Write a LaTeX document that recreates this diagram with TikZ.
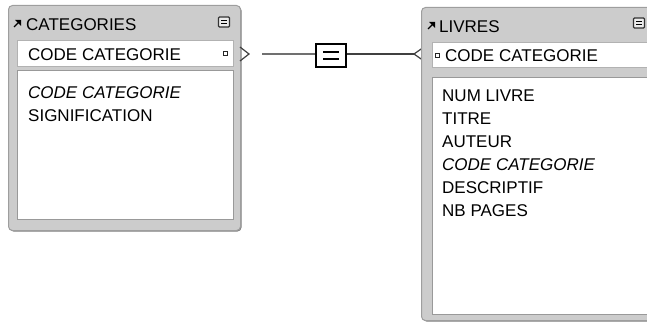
\documentclass[tikz,border=0pt]{standalone}
\usepackage{fontspec}
\setmainfont{Liberation Sans}
\usetikzlibrary{positioning}
\definecolor{mframe}{rgb}{0.8, 0.8, 0.8}
\definecolor{medge}{rgb}{0.62, 0.62, 0.62}
\definecolor{mshadow}{rgb}{0.5, 0.5, 0.5}
\definecolor{mline}{rgb}{0.25, 0.25, 0.25}
\tikzset{tblframe/.style = {draw=medge, fill=mframe, line width=1pt, rounded corners=4pt,
                            anchor=north west, inner sep=0pt},
         tblfield/.style = {draw=black!30, fill=white, anchor=north west, inner sep=0pt},
         tbltext/.style  = {anchor=west, inner sep=0pt, text height=12.2pt, text depth=0pt,
                            font=\fontsize{17}{20}\selectfont},
         tblicon/.style  = {draw=black!80, fill=black!8, line width=1.1pt, rounded corners=1pt,
                            minimum width=11pt, minimum height=10pt, inner sep=0pt},
         relbox/.style   = {draw, fill=white, line width=1.6pt, minimum width=30pt,
                            minimum height=23pt, inner sep=0pt}}

\begin{document}
\begin{tikzpicture}[x=1pt, y=-1pt]
    \useasboundingbox (0, 0) rectangle (647, 321);
    \clip (0, 0) rectangle (647, 321);

    % crow foot on the LIVRES side, partly under the frame
    \coordinate (livend) at (414, 54);
    \draw [mline, line width=1.2pt] (424, 47) -- (livend) -- (424, 61);

    % CATEGORIES
    \fill [mshadow, rounded corners=4pt] (9.5, 6.5) rectangle (241.5, 231.5);
    \node [tblframe, minimum width=232pt, minimum height=225pt] (cat) at (8, 5) {};
    \node [tblfield, minimum width=216pt, minimum height=26pt] (catkey) at (17, 40) {};
    \node [tblfield, draw=black!40, minimum width=216pt, minimum height=149pt] (catbody) at (17, 70) {};
    \node [tbltext] (cattitle) at (26, 24) {CATEGORIES};
    \node [tbltext] (catkeytext) at (28, 54.5) {CODE CATEGORIE};
    \node [tbltext] (catattr1) at (28, 92) {\itshape CODE CATEGORIE};
    \node [tbltext] (catattr2) at (28, 115) {SIGNIFICATION};
    \draw [line width=1.3pt] (14, 27) -- (19, 22);
    \fill (15, 20) -- (21, 20) -- (21, 26) -- cycle;
    \node [tblicon] (caticon) at (224, 22) {};
    \draw [line width=1pt] ([xshift=-3pt, yshift=1.5pt]caticon.center) -- ++(6, 0)
                            ([xshift=-3pt, yshift=-1.5pt]caticon.center) -- ++(6, 0);
    \draw [black!85, line width=1pt] (223, 51.5) rectangle (227, 55.5);

    % LIVRES
    \fill [mshadow, rounded corners=4pt] (422.5, 8.5) rectangle (660, 321.5);
    \node [tblframe, minimum width=235pt, minimum height=313pt] (liv) at (421, 7) {};
    \node [tblfield, minimum width=220pt, minimum height=25pt] (livkey) at (432, 42) {};
    \node [tblfield, draw=black!40, minimum width=220pt, minimum height=237pt] (livbody) at (432, 77) {};
    \node [tbltext] (livtitle) at (439, 26) {LIVRES};
    \node [tbltext] (livkeytext) at (445, 55.5) {CODE CATEGORIE};
    \foreach \y/\t [count=\i] in {95/NUM LIVRE, 118/TITRE, 141/AUTEUR,
                                 164/{\itshape CODE CATEGORIE}, 187/DESCRIPTIF, 210/NB PAGES}
        \node [tbltext] (livattr\i) at (442, \y) {\t};
    \draw [line width=1.3pt] (428, 29) -- (433, 24);
    \fill (429, 22) -- (435, 22) -- (435, 28) -- cycle;
    \node [tblicon] (livicon) at (639, 23) {};
    \draw [line width=1pt] ([xshift=-3pt, yshift=1.5pt]livicon.center) -- ++(6, 0)
                            ([xshift=-3pt, yshift=-1.5pt]livicon.center) -- ++(6, 0);
    \draw [black!85, line width=1pt] (435, 53.5) rectangle (439, 57.5);

    % relation
    \coordinate (catend) at (262, 54);
    \draw [mline, line width=1.2pt] (240, 47) -- (249, 54) -- (240, 61);
    \node [relbox] (rel) at (331, 55.5) {};
    \draw [mline!75, line width=1.4pt] (catend) -- (rel.west |- catend);
    \draw [mline, line width=1.4pt] (rel.east |- livend) -- (livend);
    \draw [line width=1.4pt] ([xshift=-8pt, yshift=3.5pt]rel.center) -- ++(16, 0)
                             ([xshift=-8pt, yshift=-3.5pt]rel.center) -- ++(16, 0);
\end{tikzpicture}
\end{document}
